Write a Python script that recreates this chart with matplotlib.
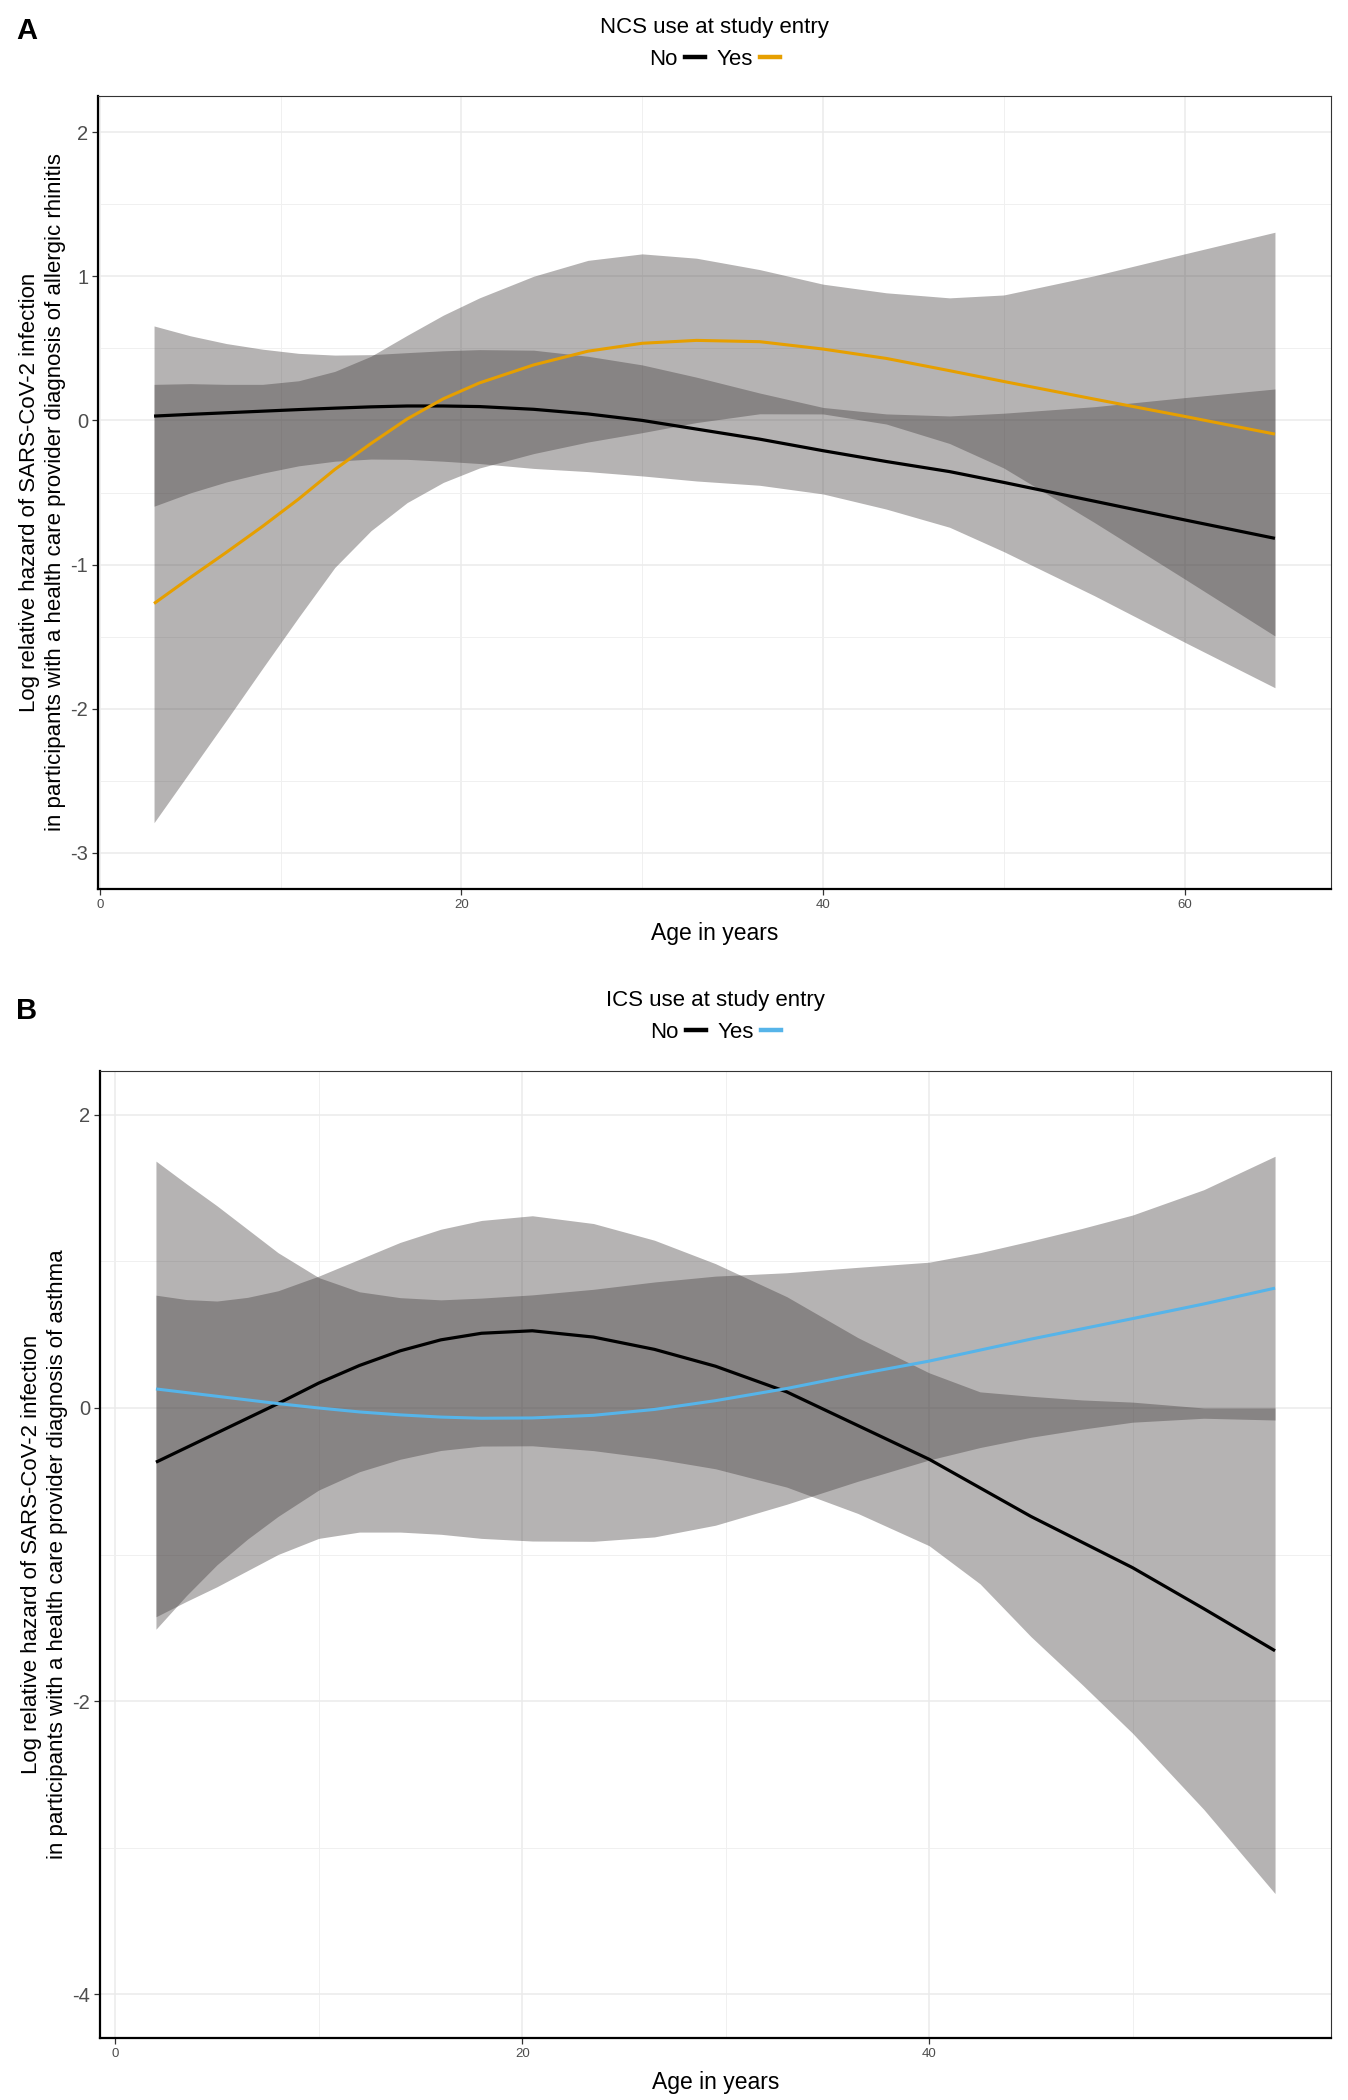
import matplotlib
matplotlib.use("Agg")
import matplotlib.pyplot as plt
import numpy as np
from matplotlib.lines import Line2D
from matplotlib.ticker import MultipleLocator

plt.rcParams['font.family'] = ['Liberation Sans', 'DejaVu Sans']
plt.rcParams['axes.unicode_minus'] = False

# ---- panel A: allergic rhinitis, NCS use ----
age_a = [3, 5, 7, 9, 11, 13, 15, 17, 19, 21, 24, 27, 30, 33, 36.5, 40, 43.5, 47, 50, 55, 60, 65]
a_no_fit = [0.03, 0.042, 0.053, 0.064, 0.075, 0.085, 0.094, 0.10, 0.10, 0.096, 0.077, 0.045,
            0.0, -0.06, -0.13, -0.21, -0.285, -0.355, -0.43, -0.56, -0.69, -0.818]
a_no_ci = [0.625, 0.545, 0.48, 0.43, 0.39, 0.368, 0.362, 0.37, 0.383, 0.395, 0.41, 0.40,
           0.385, 0.36, 0.32, 0.30, 0.33, 0.386, 0.48, 0.655, 0.848, 1.036]
a_yes_fit = [-1.27, -1.09, -0.915, -0.735, -0.545, -0.34, -0.16, 0.01, 0.15, 0.26, 0.385, 0.48,
             0.535, 0.555, 0.546, 0.495, 0.43, 0.345, 0.27, 0.148, 0.028, -0.095]
a_yes_ci = [1.52, 1.345, 1.165, 0.985, 0.82, 0.68, 0.605, 0.58, 0.58, 0.59, 0.615, 0.63,
            0.62, 0.57, 0.5, 0.45, 0.455, 0.505, 0.6, 0.855, 1.127, 1.4]

# ---- panel B: asthma, ICS use ----
age_b = [2, 3.5, 5, 6.5, 8, 10, 12, 14, 16, 18, 20.5, 23.5, 26.5, 29.5, 33, 36.5, 40,
         42.5, 45, 47.5, 50, 53.5, 57]
b_no_fit = [-0.37, -0.27, -0.17, -0.07, 0.03, 0.17, 0.29, 0.39, 0.465, 0.51, 0.527, 0.484,
            0.40, 0.285, 0.11, -0.12, -0.35, -0.545, -0.74, -0.915, -1.09, -1.37, -1.657]
b_no_ci = [1.14, 1.01, 0.90, 0.825, 0.77, 0.73, 0.725, 0.74, 0.755, 0.77, 0.785, 0.775,
           0.745, 0.70, 0.65, 0.60, 0.59, 0.655, 0.82, 0.97, 1.13, 1.37, 1.657]
b_yes_fit = [0.13, 0.105, 0.08, 0.055, 0.03, 0.0, -0.027, -0.047, -0.062, -0.07, -0.068, -0.05,
             -0.01, 0.05, 0.133, 0.23, 0.32, 0.395, 0.47, 0.54, 0.61, 0.71, 0.818]
b_yes_ci = [1.555, 1.425, 1.3, 1.165, 1.03, 0.89, 0.82, 0.8, 0.8, 0.82, 0.84, 0.86,
            0.87, 0.85, 0.79, 0.73, 0.675, 0.665, 0.67, 0.685, 0.707, 0.78, 0.90]

group_labels = ["No", "Yes"]
YLAB1 = "Log relative hazard of SARS-CoV-2 infection"
RIBBON = "#3E3838"

W, H = 1348, 2100
fig = plt.figure(figsize=(W / 100, H / 100), dpi=100)
axA = fig.add_axes([98 / W, 1 - 889 / H, 1233 / W, 793 / H])
axB = fig.add_axes([100 / W, 1 - 2038 / H, 1231 / W, 967 / H])


def panel(ax, age, no_fit, no_ci, yes_fit, yes_ci, yes_col, xlim, ylim, ystep,
          ylab2, leg_title, leg_gap):
    age = np.array(age)
    for fit, ci in [(no_fit, no_ci), (yes_fit, yes_ci)]:
        fit, ci = np.array(fit), np.array(ci)
        ax.fill_between(age, fit - ci, fit + ci, color=RIBBON, alpha=0.38, lw=0, zorder=2)
    ax.plot(age, no_fit, color="black", lw=2.3, zorder=3, solid_capstyle="butt")
    ax.plot(age, yes_fit, color=yes_col, lw=2.2, zorder=3, solid_capstyle="butt")

    ax.set_xlim(*xlim); ax.set_ylim(*ylim)
    ax.xaxis.set_major_locator(MultipleLocator(20)); ax.xaxis.set_minor_locator(MultipleLocator(10))
    ax.yaxis.set_major_locator(MultipleLocator(ystep)); ax.yaxis.set_minor_locator(MultipleLocator(ystep / 2))
    ax.set_axisbelow(True)
    ax.grid(which="major", color="#EBEBEB", lw=1.1)
    ax.grid(which="minor", color="#F0F0F0", lw=0.7)
    ax.tick_params(which="minor", length=0)
    ax.tick_params(axis="y", which="major", length=4, width=0.9, color="#333333",
                   labelsize=14.5, labelcolor="#4D4D4D", pad=3)
    ax.tick_params(axis="x", which="major", length=4, width=0.9, color="#333333",
                   labelsize=9.5, labelcolor="#4D4D4D", pad=3)
    for s in ["top", "right"]:
        ax.spines[s].set_color("#333333"); ax.spines[s].set_linewidth(0.8)
    for s in ["left", "bottom"]:
        ax.spines[s].set_color("black"); ax.spines[s].set_linewidth(1.6)

    ax.set_xlabel("Age in years", fontsize=16.5, labelpad=8)
    ax.set_ylabel(YLAB1 + "\n" + ylab2, fontsize=16, labelpad=3, linespacing=1.3)

    handles = [Line2D([], [], color="black", lw=3.2), Line2D([], [], color=yes_col, lw=3.2)]
    ax.legend(handles, group_labels, title=leg_title, loc="lower center",
              bbox_to_anchor=(0.5, 1 + leg_gap), ncol=2, frameon=False, markerfirst=False,
              handlelength=0.9, handletextpad=0.35, columnspacing=0.5, fontsize=16,
              title_fontsize=16, borderaxespad=0, borderpad=0)


panel(axA, age_a, a_no_fit, a_no_ci, a_yes_fit, a_yes_ci, "#E69F00",
      (-0.1, 68.1), (-3.25, 2.25), 1,
      "in participants with a health care provider diagnosis of allergic rhinitis",
      "NCS use at study entry", 26 / 793)
panel(axB, age_b, b_no_fit, b_no_ci, b_yes_fit, b_yes_ci, "#56B4E9",
      (-0.75, 59.75), (-4.3, 2.3), 2,
      "in participants with a health care provider diagnosis of asthma",
      "ICS use at study entry", 28 / 967)

fig.text(27 / W, 1 - 31 / H, "A", fontsize=21, fontweight="bold", ha="center", va="center")
fig.text(27 / W, 1 - 1011 / H, "B", fontsize=21, fontweight="bold", ha="center", va="center")

fig.savefig("out.png", dpi=100)
